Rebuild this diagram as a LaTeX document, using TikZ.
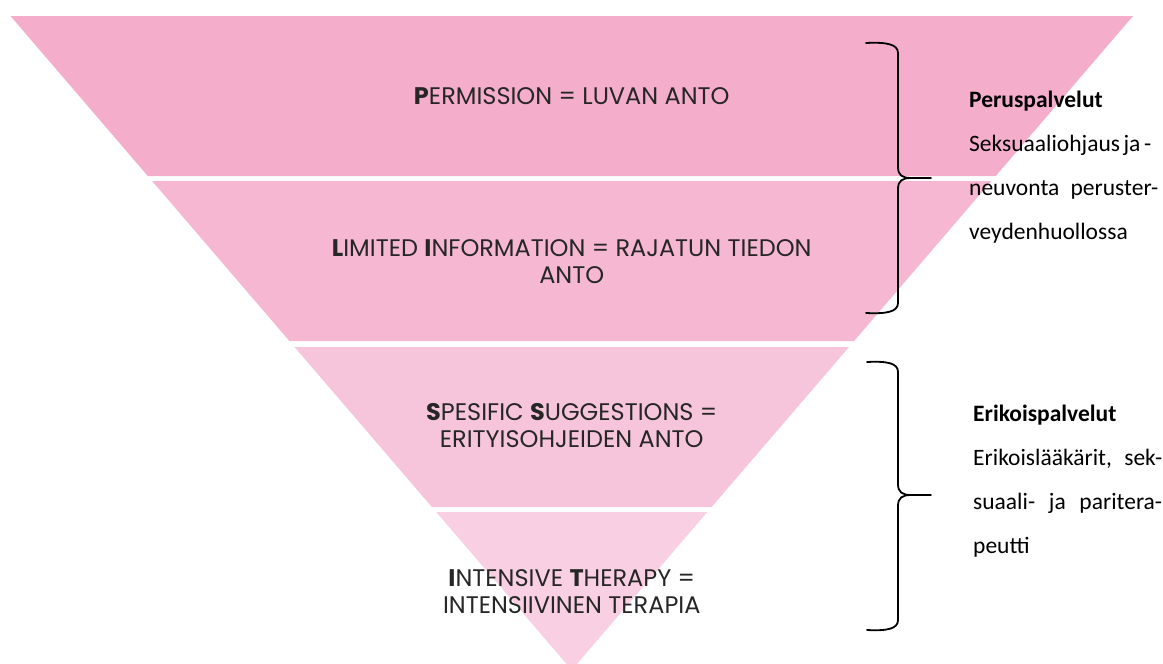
\documentclass[tikz,border=0pt]{standalone}
\usepackage{fontspec}
\setmainfont{Poppins}
\newfontfamily\calfont{Carlito}
\definecolor{bandA}{RGB}{244,173,203}
\definecolor{bandB}{RGB}{246,183,211}
\definecolor{bandC}{RGB}{246,196,219}
\definecolor{bandD}{RGB}{249,208,227}
\definecolor{txt}{RGB}{38,38,38}
\tikzset{
  ptext/.style={font=\fontsize{24}{27}\selectfont, align=center, text=txt, inner sep=0pt},
  rtext/.style={font=\calfont\fontsize{23.5}{26}\selectfont, anchor=base west, inner sep=0pt, text=black},
  bracepath/.style={draw=black, line width=1.8pt, line cap=round, line join=round}
}
\begin{document}
\begin{tikzpicture}[x=1pt,y=-1pt]
\useasboundingbox (0,0) rectangle (1163,664);
\clip (0,0) rectangle (1163,664);
% bands
\fill[bandA] (10.5,16) -- (1133,16) -- (995.7,176) -- (147.8,176) -- cycle;
\fill[bandB] (152.1,181) -- (991.4,181) -- (854.1,341) -- (289.4,341) -- cycle;
\fill[bandC] (294.5,347) -- (849.0,347) -- (711.6,507) -- (431.9,507) -- cycle;
\fill[bandD] (436.2,512) -- (707.3,512) -- (571.75,670) -- cycle;
% pyramid texts
\node[ptext] (perm) at (571.75,96) {\textbf{P}ERMISSION = LUVAN ANTO};
\node[ptext] (info) at (571.75,262) {\textbf{L}IMITED \textbf{I}NFORMATION = RAJATUN TIEDON\\ANTO};
\node[ptext] (sugg) at (571.75,426) {\textbf{S}PESIFIC \textbf{S}UGGESTIONS =\\ERITYISOHJEIDEN ANTO};
\node[ptext] (ther) at (571.75,592) {\textbf{I}NTENSIVE \textbf{T}HERAPY =\\INTENSIIVINEN TERAPIA};
% braces
\draw[bracepath] (866,43) .. controls (886,42) and (898,44) .. (898,53) -- (898,167)
  .. controls (898,175) and (902,178) .. (911,178) -- (931,178);
\draw[bracepath] (911,178) .. controls (902,178) and (898,181) .. (898,189) -- (898,303)
  .. controls (898,312) and (886,314) .. (866,313);
\draw[bracepath] (867,362) .. controls (887,361) and (898,363) .. (898,372) -- (898,484)
  .. controls (898,492) and (902,495) .. (911,495) -- (931,495);
\draw[bracepath] (911,495) .. controls (902,495) and (898,498) .. (898,506) -- (898,620)
  .. controls (898,629) and (887,631) .. (867,630);
% right texts
\node[rtext] (pp) at (969,107) {\bfseries Peruspalvelut};
\node[rtext] (pp1) at (969,151) {\makebox[180pt][s]{Seksuaaliohjaus ja -}};
\node[rtext] (pp2) at (969,195) {\makebox[189pt][s]{neuvonta peruster-}};
\node[rtext] (pp3) at (969,239) {veydenhuollossa};
\node[rtext] (ep) at (973,421) {\bfseries Erikoispalvelut};
\node[rtext] (ep1) at (973,465) {\makebox[189pt][s]{Erikoislääkärit, sek-}};
\node[rtext] (ep2) at (973,509) {\makebox[189pt][s]{suaali- ja paritera-}};
\node[rtext] (ep3) at (973,553) {peutti};
\end{tikzpicture}
\end{document}
